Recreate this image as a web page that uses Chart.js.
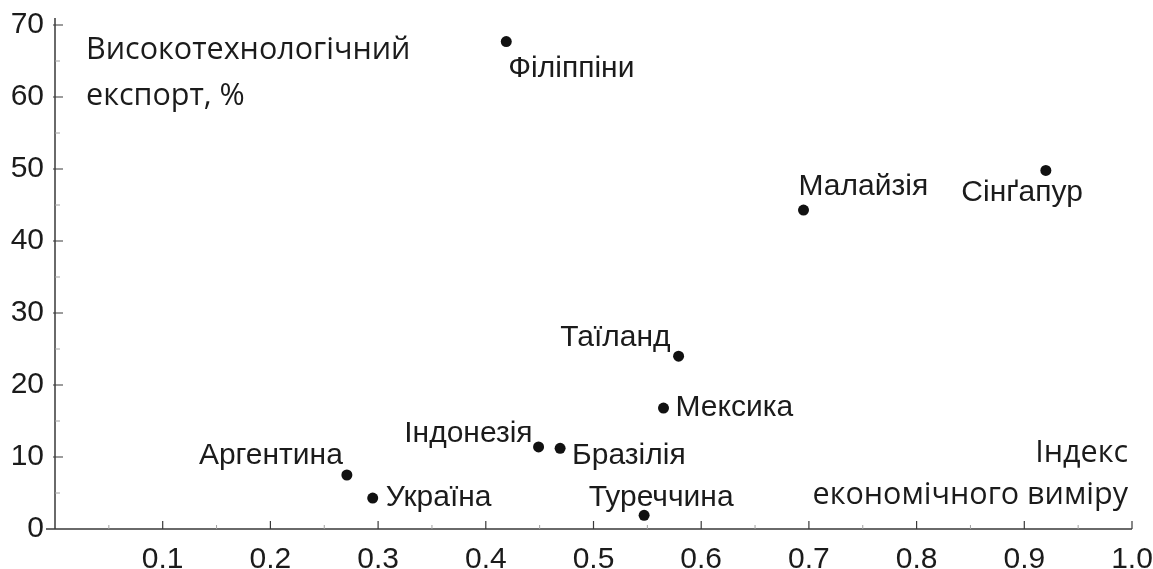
<!DOCTYPE html>
<html lang="uk">
<head>
<meta charset="utf-8">
<title>Високотехнологічний експорт</title>
<script src="https://cdn.jsdelivr.net/npm/chart.js@4"></script>
<style>
  html, body { margin: 0; padding: 0; background: #fff; }
  #wrap { width: 1153px; height: 569px; position: relative; }
</style>
</head>
<body>
<div id="wrap"><canvas id="chart"></canvas></div>
<script>
/* ---------- Дані ---------- */
const countries = ['Філіппіни', 'Сінґапур', 'Малайзія', 'Таїланд', 'Мексика', 'Індонезія', 'Бразілія', 'Аргентина', 'Україна', 'Туреччина'];
const economicIndex = [0.419, 0.920, 0.695, 0.579, 0.565, 0.449, 0.469, 0.271, 0.295, 0.547];
const hiTechExport = [67.7, 49.8, 44.3, 24.0, 16.8, 11.4, 11.2, 7.5, 4.3, 1.9];
const xTicks = [0.1, 0.2, 0.3, 0.4, 0.5, 0.6, 0.7, 0.8, 0.9, 1.0];
const yTicks = [0, 10, 20, 30, 40, 50, 60, 70];

// Розміщення підписів відносно точки: [вирівнювання, dx, dy]
const labelPlace = [
  ['left', 2, 27], ['right', 37, 22], ['left', -5, -23], ['right', -8, -18], ['left', 12, 0],
  ['right', -6, -13], ['left', 12, 7], ['right', -4, -19], ['left', 13, 0], ['center', 17, -18],
];

const INK = '#1b1b1b';
const AXIS = '#3a3a3a';
const SANS = '"Liberation Sans", Arial, sans-serif';
const LABEL_FONT = '30px ' + SANS;
const TITLE_FONT = '30.5px "Open Sans", sans-serif';

// без автоматичних відступів під крайні підписи — поле задає layout.padding
const noOverhang = (s) => { s.paddingLeft = 0; s.paddingRight = 0; s.paddingTop = 0; s.paddingBottom = 0; };

/* ---------- Осі з рисками всередину ---------- */
const axesPlugin = {
  id: 'axesPlugin',
  afterDatasetsDraw(chart) {
    const { ctx, scales: { x, y } } = chart;
    const x0 = x.getPixelForValue(0);
    const y0 = y.getPixelForValue(0);
    ctx.save();
    ctx.strokeStyle = AXIS;
    ctx.lineWidth = 1.5;
    ctx.beginPath();
    ctx.moveTo(x0 - 9, y0); ctx.lineTo(x.getPixelForValue(1), y0);
    ctx.moveTo(x0, y0); ctx.lineTo(x0, y.getPixelForValue(70) - 7);
    ctx.stroke();

    // основні риски
    ctx.lineWidth = 1.2;
    ctx.beginPath();
    xTicks.forEach((v) => { const px = x.getPixelForValue(v); ctx.moveTo(px, y0); ctx.lineTo(px, y0 - 8); });
    yTicks.slice(1).forEach((v) => { const py = y.getPixelForValue(v); ctx.moveTo(x0 - 2, py); ctx.lineTo(x0 + 8, py); });
    ctx.stroke();

    // проміжні риски
    ctx.strokeStyle = '#a0a0a0';
    ctx.lineWidth = 1;
    ctx.beginPath();
    xTicks.forEach((v) => { const px = x.getPixelForValue(v - 0.05); ctx.moveTo(px, y0); ctx.lineTo(px, y0 - 4); });
    yTicks.slice(1).forEach((v) => { const py = y.getPixelForValue(v - 5); ctx.moveTo(x0, py); ctx.lineTo(x0 + 5, py); });
    ctx.stroke();
    ctx.restore();
  },
};

/* ---------- Підписи країн і назви осей ---------- */
const labelsPlugin = {
  id: 'labelsPlugin',
  afterDatasetsDraw(chart) {
    const { ctx, chartArea: a } = chart;
    const pts = chart.getDatasetMeta(0).data;
    ctx.save();
    ctx.fillStyle = INK;
    ctx.font = LABEL_FONT;
    ctx.textBaseline = 'middle';
    pts.forEach((p, i) => {
      const [align, dx, dy] = labelPlace[i];
      ctx.textAlign = align;
      ctx.fillText(countries[i], p.x + dx, p.y + dy);
    });

    ctx.font = TITLE_FONT;
    ctx.textAlign = 'left';
    ctx.fillText('Високотехнологічний', a.left + 31, a.top + 25);
    ctx.fillText('експорт, %', a.left + 31, a.top + 71);
    ctx.textAlign = 'right';
    ctx.fillText('Індекс', a.right - 4, a.bottom - 76);
    ctx.fillText('економічного виміру', a.right - 4, a.bottom - 34);
    ctx.restore();
  },
};

new Chart(document.getElementById('chart'), {
  type: 'scatter',
  data: {
    datasets: [{
      label: 'Країни',
      data: economicIndex.map((v, i) => ({ x: v, y: hiTechExport[i] })),
      backgroundColor: '#111',
      borderWidth: 0,
      pointRadius: 5.5,
      pointHoverRadius: 5.5,
    }],
  },
  options: {
    responsive: true,
    maintainAspectRatio: false,
    animation: false,
    layout: { padding: { top: 25, right: 21, left: 0, bottom: 0 } },
    plugins: { legend: { display: false }, tooltip: { enabled: false } },
    scales: {
      x: {
        type: 'linear', min: 0, max: 1,
        afterFit: (s) => { s.height = 40; noOverhang(s); },
        afterBuildTicks: (s) => { s.ticks = xTicks.map((v) => ({ value: v })); },
        grid: { display: false, drawTicks: false, tickLength: 0 },
        border: { display: false },
        ticks: {
          color: INK, padding: 13,
          font: { family: SANS, size: 30 },
          callback: (v) => v.toFixed(1),
        },
      },
      y: {
        type: 'linear', min: 0, max: 70,
        afterFit: (s) => { s.width = 55; noOverhang(s); },
        afterBuildTicks: (s) => { s.ticks = yTicks.map((v) => ({ value: v })); },
        grid: { display: false, drawTicks: false, tickLength: 0 },
        border: { display: false },
        ticks: {
          color: INK, padding: 11,
          font: { family: SANS, size: 30 },
        },
      },
    },
  },
  plugins: [axesPlugin, labelsPlugin],
});
</script>
</body>
</html>
